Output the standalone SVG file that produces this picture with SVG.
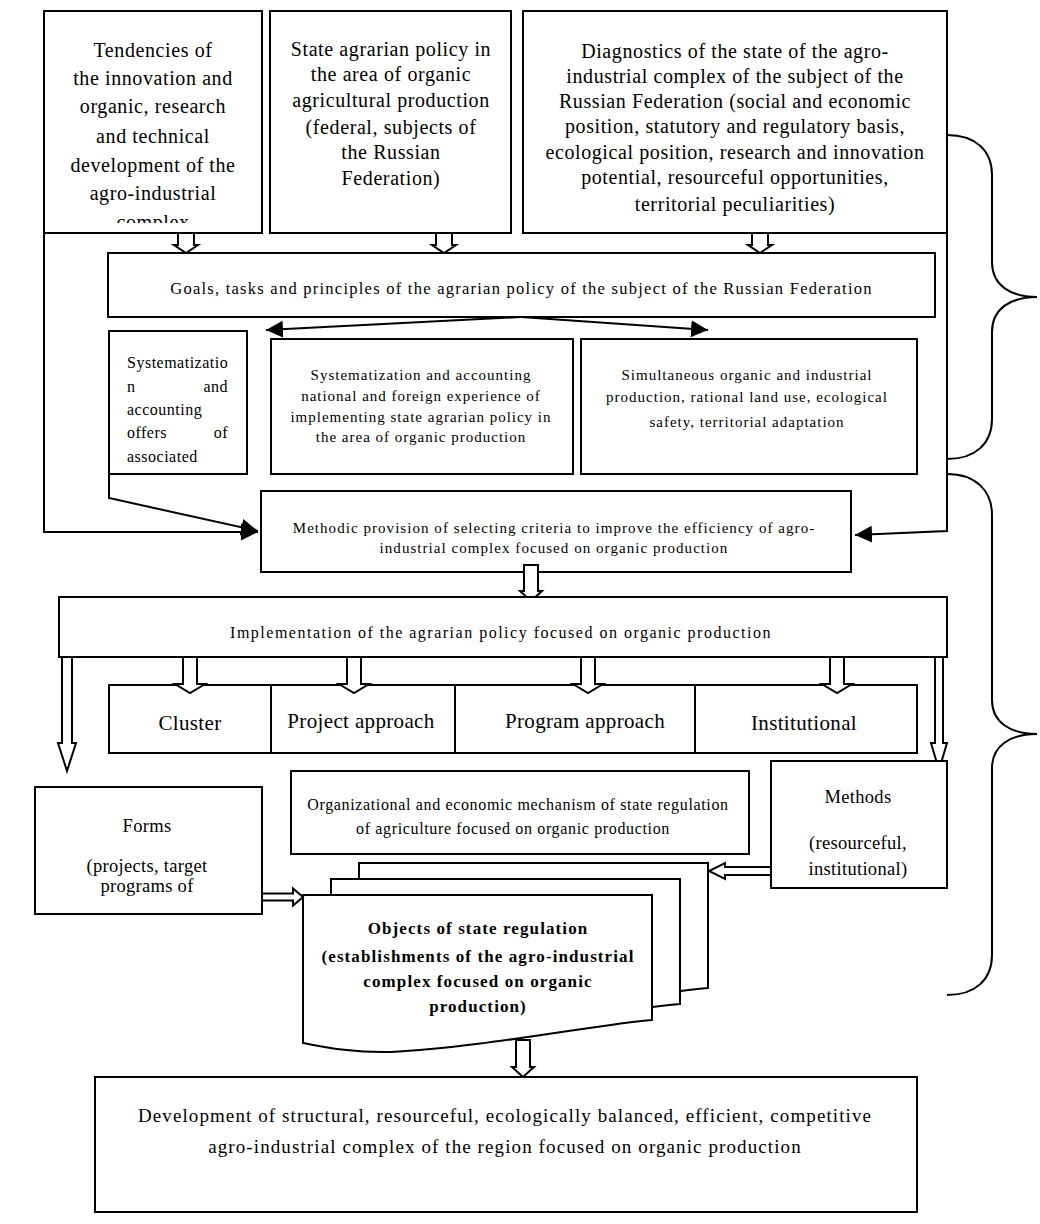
<svg xmlns="http://www.w3.org/2000/svg" width="1040" height="1224" viewBox="0 0 1040 1224">
<style>
.box{fill:#fff;stroke:#000;stroke-width:2}
.t{font-family:"Liberation Serif","Times New Roman",serif;fill:#000;text-anchor:middle}
.top{font-size:20px;letter-spacing:0.6px}
.sm{font-size:15px;letter-spacing:1px}
.cat{font-size:21px;letter-spacing:0.35px}
.con{fill:none;stroke:#000;stroke-width:2}
.hol{fill:#fff;stroke:#000;stroke-width:2;stroke-linejoin:miter}
.brace{fill:none;stroke:#000;stroke-width:2}
</style>
<defs>
<marker id="ah" markerUnits="userSpaceOnUse" markerWidth="18" markerHeight="18" refX="17" refY="8.5" orient="auto">
<path d="M0,0 L17,8.5 L0,17 Z" fill="#000"/>
</marker>
<clipPath id="clip1"><rect x="44" y="11" width="218" height="212"/></clipPath>
<path id="doc" d="M303,895 H652 V1020 C600,1024 480,1048 390,1052 C350,1053 320,1046 303,1043 Z"/>
</defs>
<rect x="0" y="0" width="1040" height="1224" fill="#fff"/>

<g id="connectors">
<path class="con" d="M44,168 V532 H258" marker-end="url(#ah)"/>
<path class="con" d="M109,474 V498 L258,531" marker-end="url(#ah)"/>
<path class="con" d="M947,233 V531 L855,535" marker-end="url(#ah)"/>
<path class="con" d="M521,317 L266,330" marker-end="url(#ah)"/>
<path class="con" d="M521,317 L708,330" marker-end="url(#ah)"/>
</g>

<g id="n-tendencies">
<rect class="box" x="44" y="11" width="218" height="222"/>
<text class="t top" x="153" y="57">Tendencies of</text>
<text class="t top" x="153" y="85">the innovation and</text>
<text class="t top" x="153" y="113">organic, research</text>
<text class="t top" x="153" y="143">and technical</text>
<text class="t top" x="153" y="172">development of the</text>
<text class="t top" x="153" y="200">agro-industrial</text>
<text class="t top" x="153" y="229" clip-path="url(#clip1)">complex</text>
</g>

<g id="n-state">
<rect class="box" x="270" y="11" width="241" height="222"/>
<text class="t top" x="391" y="56">State agrarian policy in</text>
<text class="t top" x="391" y="81">the area of organic</text>
<text class="t top" x="391" y="107">agricultural production</text>
<text class="t top" x="391" y="134">(federal, subjects of</text>
<text class="t top" x="391" y="159">the Russian</text>
<text class="t top" x="391" y="185">Federation)</text>
</g>

<g id="n-diagnostics">
<rect class="box" x="523" y="11" width="424" height="222"/>
<text class="t top" x="735" y="58">Diagnostics of the state of the agro-</text>
<text class="t top" x="735" y="83">industrial complex of the subject of the</text>
<text class="t top" x="735" y="108">Russian Federation (social and economic</text>
<text class="t top" x="735" y="133">position, statutory and regulatory basis,</text>
<text class="t top" x="735" y="159">ecological position, research and innovation</text>
<text class="t top" x="735" y="184">potential, resourceful opportunities,</text>
<text class="t top" x="735" y="211">territorial peculiarities)</text>
</g>

<g id="arrows-top">
<polygon class="hol" points="178,233 194,233 194,245 198,245 186,253 174,245 178,245"/>
<polygon class="hol" points="436,233 452,233 452,245 456,245 444,253 432,245 436,245"/>
<polygon class="hol" points="752,233 768,233 768,245 772,245 760,253 748,245 752,245"/>
</g>

<g id="n-goals">
<rect class="box" x="108" y="253" width="827" height="64"/>
<text class="t" x="521.5" y="294" style="font-size:16.5px;letter-spacing:1.25px">Goals, tasks and principles of the agrarian policy of the subject of the Russian Federation</text>
</g>

<g id="n-syst-assoc">
<rect class="box" x="109" y="331" width="138" height="143"/>
<g style="font-family:'Liberation Serif','Times New Roman',serif;font-size:16px;letter-spacing:0.5px">
<text x="127" y="368">Systematizatio</text>
<text x="127" y="392">n</text>
<text x="228" y="392" text-anchor="end">and</text>
<text x="127" y="415">accounting</text>
<text x="127" y="438">offers</text>
<text x="228" y="438" text-anchor="end">of</text>
<text x="127" y="462">associated</text>
</g>
</g>

<g id="n-syst-national">
<rect class="box" x="271" y="339" width="302" height="135"/>
<text class="t sm" x="421" y="380">Systematization and accounting</text>
<text class="t sm" x="421" y="401">national and foreign experience of</text>
<text class="t sm" x="421" y="422">implementing state agrarian policy in</text>
<text class="t sm" x="421" y="442">the area of organic production</text>
</g>

<g id="n-simultaneous">
<rect class="box" x="581" y="339" width="336" height="135"/>
<text class="t sm" x="747" y="380">Simultaneous organic and industrial</text>
<text class="t sm" x="747" y="402">production, rational land use, ecological</text>
<text class="t sm" x="747" y="427">safety, territorial adaptation</text>
</g>

<g id="n-methodic">
<rect class="box" x="261" y="491" width="590" height="81"/>
<text class="t sm" x="554" y="533" style="letter-spacing:1.05px">Methodic provision of selecting criteria to improve the efficiency of agro-</text>
<text class="t sm" x="554" y="553" style="letter-spacing:1.05px">industrial complex focused on organic production</text>
</g>
<polygon class="hol" points="524,565 538,565 538,591 542,591 531,601 520,591 524,591"/>

<g id="n-implementation">
<rect class="box" x="59" y="597" width="888" height="60"/>
<text class="t" x="501" y="638" style="font-size:16px;letter-spacing:1.5px">Implementation of the agrarian policy focused on organic production</text>
</g>

<g id="arrows-impl">
<polygon class="hol" points="62,657 72,657 72,743 76,743 67,771 58,743 62,743"/>
<polygon class="hol" points="935,657 943,657 943,743 947,743 939,770 931,743 935,743"/>
</g>

<g id="n-cluster">
<rect class="box" x="109" y="685" width="162" height="68"/>
<text class="t cat" x="190" y="730">Cluster</text>
</g>
<g id="n-project">
<rect class="box" x="271" y="685" width="184" height="68"/>
<text class="t cat" x="361" y="728">Project approach</text>
</g>
<g id="n-program">
<rect class="box" x="455" y="685" width="240" height="68"/>
<text class="t cat" x="585" y="728">Program approach</text>
</g>
<g id="n-institutional">
<rect class="box" x="695" y="685" width="222" height="68"/>
<text class="t cat" x="804" y="730">Institutional</text>
</g>
<g id="arrows-cat">
<polygon class="hol" points="183,657 197,657 197,684 205,684 190,693 175,684 183,684"/>
<polygon class="hol" points="347,657 361,657 361,684 369,684 354,693 339,684 347,684"/>
<polygon class="hol" points="581,657 595,657 595,684 603,684 588,693 573,684 581,684"/>
<polygon class="hol" points="830,657 844,657 844,684 852,684 837,693 822,684 830,684"/>
</g>

<g id="n-org">
<rect class="box" x="291" y="771" width="458" height="83"/>
<text class="t" x="518" y="810" style="font-size:16px;letter-spacing:0.65px">Organizational and economic mechanism of state regulation</text>
<text class="t" x="513" y="834" style="font-size:16px;letter-spacing:0.65px">of agriculture focused on organic production</text>
</g>

<g id="n-methods">
<rect class="box" x="771" y="761" width="176" height="127"/>
<text class="t" x="858" y="803" style="font-size:18.5px;letter-spacing:0.3px">Methods</text>
<text class="t" x="858" y="849" style="font-size:18.5px;letter-spacing:0.3px">(resourceful,</text>
<text class="t" x="858" y="875" style="font-size:18.5px;letter-spacing:0.3px">institutional)</text>
</g>

<g id="n-forms">
<rect class="box" x="35" y="787" width="227" height="127"/>
<text class="t" x="147" y="832" style="font-size:18.5px;letter-spacing:0.3px">Forms</text>
<text class="t" x="147" y="872" style="font-size:18.5px;letter-spacing:0.3px">(projects, target</text>
<text class="t" x="147" y="892" style="font-size:18.5px;letter-spacing:0.3px">programs of</text>
</g>

<g id="n-objects">
<use href="#doc" class="box" transform="translate(56,-32)"/>
<use href="#doc" class="box" transform="translate(28,-16)"/>
<use href="#doc" class="box"/>
<g style="font-family:'Liberation Serif','Times New Roman',serif;font-size:17px;font-weight:bold;letter-spacing:1.1px;text-anchor:middle">
<text x="478" y="934">Objects of state regulation</text>
<text x="478" y="962">(establishments of the agro-industrial</text>
<text x="478" y="987">complex focused on organic</text>
<text x="478" y="1012">production)</text>
</g>
</g>

<g id="arrows-bottom">
<polygon class="hol" points="262,893.5 293,893.5 293,888.5 303,897 293,905.5 293,900.5 262,900.5"/>
<polygon class="hol" points="771,867 725,867 725,863 709,871 725,879 725,875 771,875"/>
<polygon class="hol" points="516,1040 530,1040 530,1067 534,1067 523,1077 512,1067 516,1067"/>
</g>

<g id="n-development">
<rect class="box" x="95" y="1077" width="822" height="135"/>
<text class="t" x="505" y="1122" style="font-size:19px;letter-spacing:1.1px">Development of structural, resourceful, ecologically balanced, efficient, competitive</text>
<text class="t" x="505" y="1153" style="font-size:19px;letter-spacing:1.1px">agro-industrial complex of the region focused on organic production</text>
</g>

<g id="braces">
<path class="brace" d="M947,135 C975,135 992,150 992,175 V262 C992,285 1010,297 1037,297 C1010,297 992,309 992,332 V419 C992,444 975,459 947,459"/>
<path class="brace" d="M947,474 C975,474 992,490 992,515 V700 C992,722 1010,734 1037,734 C1010,734 992,746 992,768 V955 C992,980 975,995 947,995"/>
</g>
</svg>
